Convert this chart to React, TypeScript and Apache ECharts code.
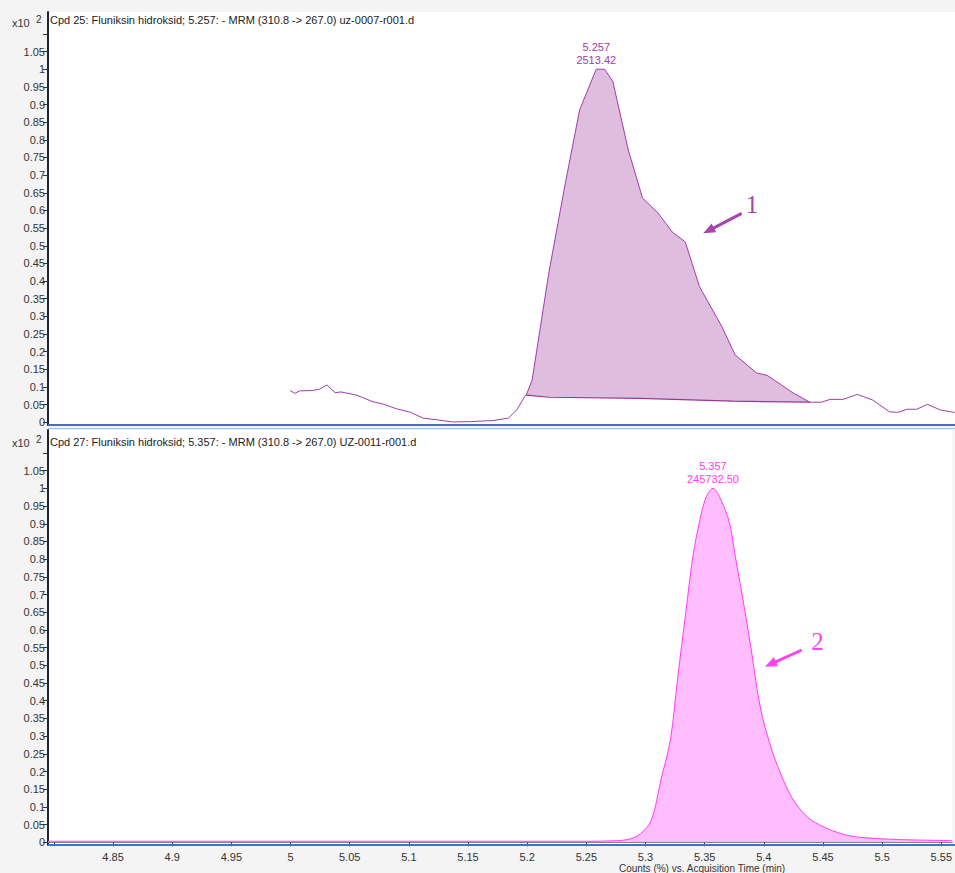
import React, { useEffect, useRef } from "react";
import * as echarts from "echarts";

// ---- axis ticks ----
const xTicks = [4.8, 4.85, 4.9, 4.95, 5, 5.05, 5.1, 5.15, 5.2, 5.25, 5.3, 5.35, 5.4, 5.45, 5.5, 5.55];
const xLabels = [4.85, 4.9, 4.95, 5, 5.05, 5.1, 5.15, 5.2, 5.25, 5.3, 5.35, 5.4, 5.45, 5.5, 5.55];
const yTicks = [0, 0.05, 0.1, 0.15, 0.2, 0.25, 0.3, 0.35, 0.4, 0.45, 0.5, 0.55, 0.6, 0.65, 0.7, 0.75, 0.8, 0.85, 0.9, 0.95, 1, 1.05, 1.1];
const yLabels = [0, 0.05, 0.1, 0.15, 0.2, 0.25, 0.3, 0.35, 0.4, 0.45, 0.5, 0.55, 0.6, 0.65, 0.7, 0.75, 0.8, 0.85, 0.9, 0.95, 1, 1.05];

// ---- Cpd 25 chromatogram (x10^2 counts %) ----
const cpd25Time = [
  4.999, 5.003, 5.007, 5.018, 5.024, 5.03, 5.037, 5.042, 5.055, 5.069, 5.077, 5.089, 5.1, 5.111,
  5.123, 5.136, 5.151, 5.17, 5.183, 5.19, 5.197, 5.198, 5.203, 5.217, 5.231, 5.243, 5.257, 5.264,
  5.271, 5.284, 5.296, 5.309, 5.321, 5.332, 5.344, 5.363, 5.374, 5.392, 5.401, 5.413, 5.423, 5.437,
  5.447, 5.454, 5.465, 5.477, 5.49, 5.504, 5.511, 5.519, 5.527, 5.536, 5.547, 5.559,
];
const cpd25Counts = [
  0.09, 0.082, 0.089, 0.09, 0.094, 0.106, 0.084, 0.086, 0.077, 0.058, 0.052, 0.038, 0.029, 0.012,
  0.007, 0.001, 0.002, 0.005, 0.012, 0.035, 0.075, 0.077, 0.12, 0.423, 0.678, 0.885, 1.0, 1.0,
  0.965, 0.771, 0.635, 0.593, 0.539, 0.511, 0.384, 0.27, 0.191, 0.14, 0.133, 0.106, 0.083, 0.057,
  0.057, 0.065, 0.065, 0.079, 0.063, 0.03, 0.028, 0.037, 0.037, 0.051, 0.035, 0.028,
];
// integration baseline of peak 1
const cpd25BaseTime = [5.198, 5.217, 5.294, 5.372, 5.437];
const cpd25BaseCounts = [0.077, 0.071, 0.068, 0.06, 0.057];
const cpd25Peak = { time: 5.257, height: 1.0, rt: "5.257", area: "2513.42" };

// ---- Cpd 27 chromatogram ----
const cpd27Time = [
  4.795, 4.9, 5.0, 5.1, 5.2, 5.25, 5.269, 5.285, 5.296, 5.305, 5.313, 5.321, 5.327, 5.334, 5.34,
  5.346, 5.351, 5.357, 5.363, 5.371, 5.376, 5.382, 5.389, 5.397, 5.406, 5.414, 5.424, 5.437, 5.451,
  5.465, 5.479, 5.513, 5.559,
];
const cpd27Counts = [
  0.003, 0.003, 0.003, 0.003, 0.003, 0.003, 0.004, 0.008, 0.025, 0.063, 0.176, 0.289, 0.459, 0.648,
  0.806, 0.911, 0.973, 1.0, 0.973, 0.902, 0.806, 0.693, 0.552, 0.382, 0.269, 0.196, 0.125, 0.071,
  0.043, 0.025, 0.015, 0.008, 0.005,
];
const cpd27Peak = { time: 5.357, height: 1.0, rt: "5.357", area: "245732.50" };

const titles = [
  "Cpd 25: Fluniksin hidroksid; 5.257: - MRM (310.8 -> 267.0) uz-0007-r001.d",
  "Cpd 27: Fluniksin hidroksid; 5.357: - MRM (310.8 -> 267.0) UZ-0011-r001.d",
];
const xTitle = "Counts (%) vs. Acquisition Time (min)";

const FONT = "'Liberation Sans', Arial, sans-serif";
const C1_LINE = "#a03ca8";
const C1_FILL = "#dfbddf";
const C2_LINE = "#ff3cf5";
const C2_FILL = "#ffbcff";

const X_MIN = 4.795;
const X_MAX = 5.5593;

const zip = (a: number[], b: number[]) => a.map((v, i) => [v, b[i]]);

export default function App() {
  const ref = useRef<HTMLDivElement>(null);

  useEffect(() => {
    if (!ref.current) return;
    const chart = echarts.init(ref.current, undefined, { renderer: "svg" });

    const curve1 = zip(cpd25Time, cpd25Counts);
    const base1 = zip(cpd25BaseTime, cpd25BaseCounts);
    const t0 = cpd25BaseTime[0];
    const t1 = cpd25BaseTime[cpd25BaseTime.length - 1];
    const peakSeg = curve1.filter((p) => p[0] >= t0 && p[0] <= t1);
    const poly = peakSeg.concat(base1.slice().reverse());

    const yAxisCommon = (gridIndex: number, max: number) => ({
      type: "value" as const,
      gridIndex,
      min: -0.0076,
      max,
      splitLine: { show: false },
      axisLine: { show: true, lineStyle: { color: "#1c2436", width: 2 } },
      axisTick: {
        show: true,
        length: 5,
        customValues: yTicks,
        lineStyle: { color: "#333", width: 1 },
      },
      axisLabel: {
        show: true,
        customValues: yLabels,
        fontSize: 11,
        fontFamily: FONT,
        color: "#333",
        margin: 3,
      },
    });

    const option: any = {
      animation: false,
      backgroundColor: "#f4f4f4",
      grid: [
        { left: 48, top: 12, width: 907, height: 413, show: true, backgroundColor: "#ffffff", borderWidth: 0 },
        { left: 48, top: 430, width: 907, height: 415, show: true, backgroundColor: "#ffffff", borderWidth: 0 },
      ],
      xAxis: [
        {
          type: "value",
          gridIndex: 0,
          min: X_MIN,
          max: X_MAX,
          axisLine: { show: false },
          axisTick: { show: false },
          axisLabel: { show: false },
          splitLine: { show: false },
        },
        {
          type: "value",
          gridIndex: 1,
          min: X_MIN,
          max: X_MAX,
          offset: 3,
          axisLine: { show: true, lineStyle: { color: "#666", width: 1 } },
          axisTick: { show: true, length: 4, customValues: xTicks, lineStyle: { color: "#333" } },
          axisLabel: {
            show: true,
            customValues: xLabels,
            fontSize: 11,
            fontFamily: FONT,
            color: "#333",
            margin: 3,
          },
          splitLine: { show: false },
        },
      ],
      yAxis: [yAxisCommon(0, 1.162), yAxisCommon(1, 1.165)],
      series: [
        {
          type: "custom",
          xAxisIndex: 0,
          yAxisIndex: 0,
          silent: true,
          data: [[t0, 0]],
          renderItem: (_params: any, api: any) => ({
            type: "polygon",
            shape: { points: poly.map((p) => api.coord(p)) },
            style: { fill: C1_FILL, stroke: "none" },
          }),
          z: 1,
        },
        {
          type: "line",
          xAxisIndex: 0,
          yAxisIndex: 0,
          data: base1,
          showSymbol: false,
          lineStyle: { color: "#9a3498", width: 1.2 },
          z: 2,
        },
        {
          type: "line",
          xAxisIndex: 0,
          yAxisIndex: 0,
          data: curve1,
          showSymbol: false,
          lineStyle: { color: C1_LINE, width: 1 },
          z: 3,
          markPoint: {
            symbol: "circle",
            symbolSize: 1,
            itemStyle: { color: "rgba(0,0,0,0)" },
            label: {
              show: true,
              position: "top",
              distance: 2,
              formatter: `${cpd25Peak.rt}\n${cpd25Peak.area}`,
              fontSize: 11,
              lineHeight: 13,
              fontFamily: FONT,
              color: C1_LINE,
            },
            data: [{ coord: [cpd25Peak.time, cpd25Peak.height] }],
          },
        },
        {
          type: "line",
          xAxisIndex: 1,
          yAxisIndex: 1,
          data: zip(cpd27Time, cpd27Counts),
          showSymbol: false,
          smooth: 0.35,
          lineStyle: { color: C2_LINE, width: 1 },
          areaStyle: { color: C2_FILL, opacity: 1 },
          z: 3,
          markPoint: {
            symbol: "circle",
            symbolSize: 1,
            itemStyle: { color: "rgba(0,0,0,0)" },
            label: {
              show: true,
              position: "top",
              distance: 2,
              formatter: `${cpd27Peak.rt}\n${cpd27Peak.area}`,
              fontSize: 11,
              lineHeight: 13,
              fontFamily: FONT,
              color: C2_LINE,
            },
            data: [{ coord: [cpd27Peak.time, cpd27Peak.height] }],
          },
        },
      ],
      graphic: [
        // panel borders
        { type: "rect", shape: { x: 48, y: 424, width: 907, height: 2 }, style: { fill: "#3b74c6" }, silent: true, z: 10 },
        { type: "rect", shape: { x: 48, y: 428, width: 907, height: 1 }, style: { fill: "#9cc0ea" }, silent: true, z: 10 },
        { type: "rect", shape: { x: 48, y: 844, width: 907, height: 2 }, style: { fill: "#3b74c6" }, silent: true, z: 10 },
        // scale labels
        { type: "text", x: 12, y: 23, style: { text: "x10", fontSize: 11, fontFamily: FONT, fill: "#333", verticalAlign: "middle" }, z: 10 },
        { type: "text", x: 36, y: 19, style: { text: "2", fontSize: 10, fontFamily: FONT, fill: "#333", verticalAlign: "middle" }, z: 10 },
        { type: "text", x: 12, y: 443, style: { text: "x10", fontSize: 11, fontFamily: FONT, fill: "#333", verticalAlign: "middle" }, z: 10 },
        { type: "text", x: 36, y: 439, style: { text: "2", fontSize: 10, fontFamily: FONT, fill: "#333", verticalAlign: "middle" }, z: 10 },
        // titles
        { type: "text", x: 50, y: 20, style: { text: titles[0], fontSize: 11, fontFamily: FONT, fill: "#222", verticalAlign: "middle" }, z: 10 },
        { type: "text", x: 50, y: 441.5, style: { text: titles[1], fontSize: 11, fontFamily: FONT, fill: "#222", verticalAlign: "middle" }, z: 10 },
        { type: "text", x: 702, y: 868, style: { text: xTitle, fontSize: 10, fontFamily: FONT, fill: "#333", align: "center", verticalAlign: "middle" }, z: 10 },
        // annotation arrow 1
        { type: "line", shape: { x1: 741.7, y1: 213.3, x2: 712, y2: 228.8 }, style: { stroke: "#a545ad", lineWidth: 3 }, silent: true, z: 10 },
        { type: "polygon", shape: { points: [[703.3, 233.3], [716.2, 232.2], [711.6, 223.4]] }, style: { fill: "#a545ad" }, silent: true, z: 10 },
        { type: "text", x: 752, y: 204, style: { text: "1", fontSize: 25, fontFamily: "'Liberation Serif', 'DejaVu Serif', serif", fill: "#a545ad", align: "center", verticalAlign: "middle" }, z: 10 },
        // annotation arrow 2
        { type: "line", shape: { x1: 801.7, y1: 650, x2: 774, y2: 662.6 }, style: { stroke: "#ff44ee", lineWidth: 3 }, silent: true, z: 10 },
        { type: "polygon", shape: { points: [[765, 666.7], [778, 666.3], [773.8, 657.1]] }, style: { fill: "#ff44ee" }, silent: true, z: 10 },
        { type: "text", x: 817.5, y: 641, style: { text: "2", fontSize: 25, fontFamily: "'Liberation Serif', 'DejaVu Serif', serif", fill: "#ff44ee", align: "center", verticalAlign: "middle" }, z: 10 },
      ],
    };

    chart.setOption(option);
    return () => chart.dispose();
  }, []);

  return (
    <div
      ref={ref}
      style={{ position: "fixed", left: 0, top: 0, width: 955, height: 873 }}
    />
  );
}
